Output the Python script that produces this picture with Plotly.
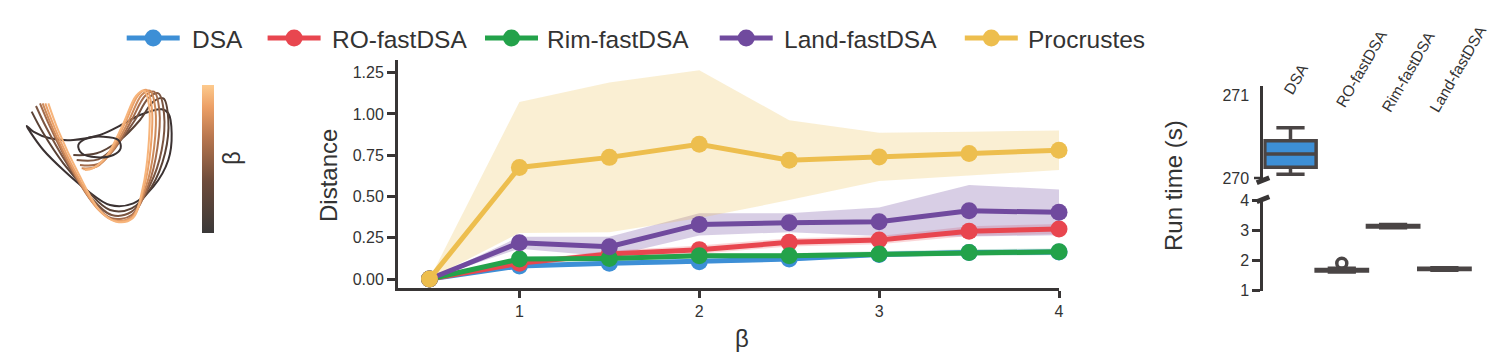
import plotly.graph_objects as go

W, H = 1509, 362

# ---------------- data ----------------
beta = [0.5, 1, 1.5, 2, 2.5, 3, 3.5, 4]
methods = ["DSA", "RO-fastDSA", "Rim-fastDSA", "Land-fastDSA", "Procrustes"]
colors = ["#3d8fd6", "#e8464f", "#23a24a", "#704a9e", "#edbe4e"]
band_rgb = ["61,143,214", "232,70,79", "35,162,74", "112,74,158", "237,190,78"]

dsa_mean = [0, 0.079, 0.095, 0.105, 0.121, 0.148, 0.160, 0.163]
dsa_std = [0, 0.010, 0.012, 0.012, 0.012, 0.012, 0.014, 0.014]
ro_mean = [0, 0.095, 0.151, 0.178, 0.222, 0.236, 0.290, 0.303]
ro_std = [0, 0.015, 0.020, 0.025, 0.025, 0.025, 0.030, 0.030]
rim_mean = [0, 0.121, 0.125, 0.141, 0.141, 0.151, 0.161, 0.165]
rim_std = [0, 0.012, 0.012, 0.015, 0.015, 0.018, 0.020, 0.020]
land_mean = [0, 0.220, 0.196, 0.331, 0.341, 0.347, 0.413, 0.404]
land_std = [0, 0.036, 0.060, 0.067, 0.057, 0.087, 0.156, 0.139]
proc_mean = [0, 0.676, 0.737, 0.817, 0.720, 0.740, 0.760, 0.780]
proc_std = [0, 0.397, 0.453, 0.448, 0.242, 0.146, 0.132, 0.120]

y_ticks = [0, 0.25, 0.5, 0.75, 1.0, 1.25]
x_ticks = [1, 2, 3, 4]

# run-time box statistics (seconds)
run_cats = ["DSA", "RO-fastDSA", "Rim-fastDSA", "Land-fastDSA"]
run_lo = [270.045, 1.620, 3.080, 1.680]
run_q1 = [270.129, 1.655, 3.110, 1.700]
run_med = [270.290, 1.680, 3.135, 1.720]
run_q3 = [270.451, 1.705, 3.160, 1.740]
run_hi = [270.608, 1.740, 3.190, 1.760]
run_outlier_cat = ["RO-fastDSA"]
run_outlier_val = [1.906]

# inset trajectories (projected coordinates), dark -> light
traj_colors = ["#3b3232", "#5a4236", "#7b5541", "#a46c4c", "#cd8a5a", "#eba169", "#f7b57c"]
traj_x = [
    [485, 420, 370, 300, 220, 150, 100, 80, 90, 130, 190, 260, 330, 400, 460, 505, 515, 505, 485],
    [95, 130, 190, 260, 330, 395, 455, 495, 505, 490, 460, 420, 360, 290, 220],
    [108, 140, 200, 270, 335, 395, 450, 485, 492, 475, 445, 405, 350, 295, 230],
    [120, 150, 210, 280, 335, 395, 445, 472, 478, 462, 435, 395, 345, 295, 240],
    [128, 158, 218, 288, 340, 395, 438, 462, 466, 450, 425, 385, 335, 290, 245],
    [136, 166, 226, 294, 344, 397, 432, 452, 455, 440, 415, 375, 325, 282, 250],
    [145, 175, 235, 300, 348, 398, 428, 445, 447, 432, 408, 368, 318, 278, 255],
]
traj_y = [
    [118, 135, 162, 195, 210, 205, 185, 168, 185, 240, 300, 360, 405, 400, 350, 270, 190, 130, 118],
    [125, 190, 280, 360, 420, 415, 350, 250, 150, 85, 95, 150, 210, 250, 255],
    [108, 175, 280, 380, 435, 425, 345, 240, 130, 70, 85, 150, 225, 268, 270],
    [100, 170, 290, 400, 445, 435, 345, 235, 120, 65, 78, 150, 235, 282, 285],
    [100, 175, 300, 410, 450, 440, 350, 235, 115, 62, 75, 155, 245, 290, 295],
    [100, 178, 305, 418, 452, 442, 352, 235, 110, 60, 75, 160, 255, 293, 298],
    [100, 182, 310, 422, 455, 445, 355, 235, 105, 62, 78, 165, 260, 295, 300],
]
loop_x = [235, 260, 310, 355, 362, 340, 290, 245, 235]
loop_y = [225, 205, 200, 210, 235, 255, 262, 250, 225]

# ---------------- helpers ----------------
FONT = "Liberation Sans, Arial, sans-serif"
TXT = "#333333"
AX = "#383535"


def px(x):
    return x / W


def py(y):
    return 1 - y / H


fig = go.Figure()

# ---- main plot: bands ----
means = [dsa_mean, ro_mean, rim_mean, land_mean, proc_mean]
stds = [dsa_std, ro_std, rim_std, land_std, proc_std]
alphas = [0.22, 0.22, 0.22, 0.27, 0.25]
for m, s, rgb, a in zip(means, stds, band_rgb, alphas):
    up = [mi + si for mi, si in zip(m, s)]
    lo = [mi - si for mi, si in zip(m, s)]
    fig.add_trace(go.Scatter(
        x=beta + beta[::-1], y=up + lo[::-1], fill="toself",
        fillcolor=f"rgba({rgb},{a})", line=dict(width=0), mode="lines",
        hoverinfo="skip", showlegend=False, xaxis="x", yaxis="y"))

# ---- main plot: lines ----
for name, m, c in zip(methods, means, colors):
    fig.add_trace(go.Scatter(
        x=beta, y=m, name=name, mode="lines+markers",
        line=dict(color=c, width=5), marker=dict(color=c, size=17),
        cliponaxis=False, showlegend=False, xaxis="x", yaxis="y"))

# ---- legend (drawn on a full-figure pixel axis) ----
leg_sym_x = [126.7, 267.6, 485, 719.7, 964.8]
leg_txt_x = [190, 330, 545, 781.7, 1026]
LEG_Y = 38
for name, c, sx, tx in zip(methods, colors, leg_sym_x, leg_txt_x):
    fig.add_trace(go.Scatter(
        x=[sx, sx + 53], y=[LEG_Y, LEG_Y], mode="lines", line=dict(color=c, width=5),
        showlegend=False, hoverinfo="skip", xaxis="x5", yaxis="y5"))
    fig.add_trace(go.Scatter(
        x=[sx + 26.5], y=[LEG_Y], mode="markers", marker=dict(color=c, size=17),
        showlegend=False, hoverinfo="skip", cliponaxis=False, xaxis="x5", yaxis="y5"))
    fig.add_annotation(text=name, x=px(tx), y=py(LEG_Y + 1), xref="paper", yref="paper",
                       xanchor="left", yanchor="middle", showarrow=False,
                       font=dict(family=FONT, size=24.5, color=TXT))

# ---- inset trajectories ----
for tx, ty, tc in zip(traj_x, traj_y, traj_colors):
    fig.add_trace(go.Scatter(
        x=tx, y=ty, mode="lines", line=dict(color=tc, width=2, shape="spline", smoothing=1.0),
        showlegend=False, hoverinfo="skip", xaxis="x2", yaxis="y2"))
fig.add_trace(go.Scatter(
    x=loop_x, y=loop_y, mode="lines",
    line=dict(color=traj_colors[0], width=2, shape="spline", smoothing=1.0),
    showlegend=False, hoverinfo="skip", xaxis="x2", yaxis="y2"))

# colorbar carrier
cb_scale = [[0, "#3a3838"], [0.35, "#6e4c3b"], [0.65, "#b9774f"], [0.85, "#ec9f66"], [1, "#fdca8d"]]
fig.add_trace(go.Scatter(
    x=[0, 0], y=[0, 0], mode="markers", showlegend=False, hoverinfo="skip",
    marker=dict(color=[0, 1], colorscale=cb_scale, opacity=0, size=1, showscale=True,
                colorbar=dict(x=px(202), xanchor="left", xpad=0, y=py(158.9), yanchor="middle",
                              ypad=0, len=147.7, lenmode="pixels", thickness=12.3,
                              thicknessmode="pixels", outlinewidth=0, showticklabels=False,
                              ticks="")),
    xaxis="x2", yaxis="y2"))

# ---- run-time boxes ----
box_line = "#4a4545"
for i, cat in enumerate(run_cats):
    ax = ("x3", "y3") if i == 0 else ("x4", "y4")
    fig.add_trace(go.Box(
        x=[cat], q1=[run_q1[i]], median=[run_med[i]], q3=[run_q3[i]],
        lowerfence=[run_lo[i]], upperfence=[run_hi[i]],
        fillcolor=colors[i], line=dict(color=box_line, width=3.5),
        width=1.0, whiskerwidth=0.55, showlegend=False, hoverinfo="skip",
        xaxis=ax[0], yaxis=ax[1]))
fig.add_trace(go.Scatter(
    x=run_outlier_cat, y=run_outlier_val, mode="markers", showlegend=False, hoverinfo="skip",
    marker=dict(symbol="circle-open", size=10, line=dict(color=box_line, width=3.5), color=box_line),
    xaxis="x4", yaxis="y4"))

# category labels above the run-time panel (rotated)
cat_lbl_x = [1279, 1331, 1377, 1425]
cat_lbl_y = [98, 111, 116, 116]
for cat, lx, ly in zip(run_cats, cat_lbl_x, cat_lbl_y):
    fig.add_annotation(text=cat, x=px(lx), y=py(ly), xref="paper", yref="paper",
                       xanchor="left", yanchor="bottom", textangle=-60, showarrow=False,
                       borderpad=0, font=dict(family=FONT, size=15.5, color=TXT))

# ---------------- layout ----------------
tickfont = dict(family=FONT, size=16, color=TXT)
main_dom_x = [px(398), px(1059)]
main_dom_y = [py(288), py(60)]

box_dom_x = [px(1263.3), px(1480)]

fig.update_layout(
    width=W, height=H, margin=dict(l=0, r=0, t=0, b=0, autoexpand=False),
    paper_bgcolor="white", plot_bgcolor="rgba(0,0,0,0)",
    font=dict(family=FONT, color=TXT),
    showlegend=False,
    xaxis=dict(domain=main_dom_x, anchor="y", range=[0.325, 4.0], tickvals=x_ticks,
               showline=True, linewidth=3, linecolor=AX, ticks="outside", ticklen=7,
               tickwidth=2.5, tickcolor=AX, showgrid=False, zeroline=False, tickfont=tickfont),
    yaxis=dict(domain=main_dom_y, anchor="x", range=[-0.0545, 1.327], tickvals=y_ticks,
               tickformat=".2f", showline=True, linewidth=3, linecolor=AX, ticks="outside",
               ticklen=8, tickwidth=2.5, tickcolor=AX, showgrid=False, zeroline=False,
               tickfont=tickfont),
    xaxis2=dict(domain=[0, px(260)], anchor="y2", range=[0, 780], visible=False),
    yaxis2=dict(domain=[py(250), py(70)], anchor="x2", range=[540, 0], visible=False),
    xaxis3=dict(domain=box_dom_x, anchor="y3", type="category",
                categoryorder="array", categoryarray=run_cats, range=[-0.53, 3.694],
                showticklabels=False, showline=False, ticks="", showgrid=False, zeroline=False),
    yaxis3=dict(domain=[py(180), py(86)], anchor="x3", range=[269.976, 271.112], tickvals=[270, 271],
                showline=True, linewidth=3, linecolor=AX, ticks="outside", ticklen=8,
                tickwidth=2.5, tickcolor="rgba(0,0,0,0)", showgrid=False, zeroline=False,
                tickfont=tickfont),
    xaxis4=dict(domain=box_dom_x, anchor="y4", type="category", categoryorder="array",
                categoryarray=run_cats, range=[-0.53, 3.694], matches="x3", showticklabels=False,
                showline=False, ticks="", showgrid=False, zeroline=False),
    yaxis4=dict(domain=[py(291), py(198)], anchor="x4", range=[0.99, 4.066], tickvals=[1, 2, 3, 4],
                showline=True, linewidth=3, linecolor=AX, ticks="outside", ticklen=8,
                tickwidth=2.5, tickcolor=AX, showgrid=False, zeroline=False, tickfont=tickfont),
    xaxis5=dict(domain=[0, 1], anchor="y5", range=[0, W], visible=False, fixedrange=True),
    yaxis5=dict(domain=[0, 1], anchor="x5", range=[H, 0], visible=False, fixedrange=True),
    boxmode="overlay",
)

# axis titles as annotations
ann_font = dict(family=FONT, size=24, color=TXT)
fig.add_annotation(text="Distance", x=px(328), y=py(176), xref="paper", yref="paper",
                   textangle=-90, showarrow=False, font=ann_font, xanchor="center", yanchor="middle")
fig.add_annotation(text="β", x=px(742), y=py(338), xref="paper", yref="paper",
                   showarrow=False, font=ann_font, xanchor="center", yanchor="middle")
fig.add_annotation(text="β", x=px(231), y=py(158), xref="paper", yref="paper", textangle=-90,
                   showarrow=False, font=ann_font, xanchor="center", yanchor="middle")
fig.add_annotation(text="Run time (s)", x=px(1173), y=py(186), xref="paper", yref="paper",
                   textangle=-90, showarrow=False, font=ann_font, xanchor="center", yanchor="middle")

# tick mark for 270 only (upper panel) and axis-break marks
fig.add_shape(type="line", xref="paper", yref="paper", x0=px(1254), y0=py(178), x1=px(1262), y1=py(178),
              line=dict(color=AX, width=2.5))
for (x0, y0, x1, y1) in [(1256.7, 182.7, 1269.3, 177.7), (1256.7, 201.7, 1269.3, 196.7)]:
    fig.add_shape(type="line", xref="paper", yref="paper", x0=px(x0), y0=py(y0), x1=px(x1), y1=py(y1),
                  line=dict(color=AX, width=5))

fig.write_html("out.html", config={"displayModeBar": False},
               post_script="document.body.style.margin='0px';")
